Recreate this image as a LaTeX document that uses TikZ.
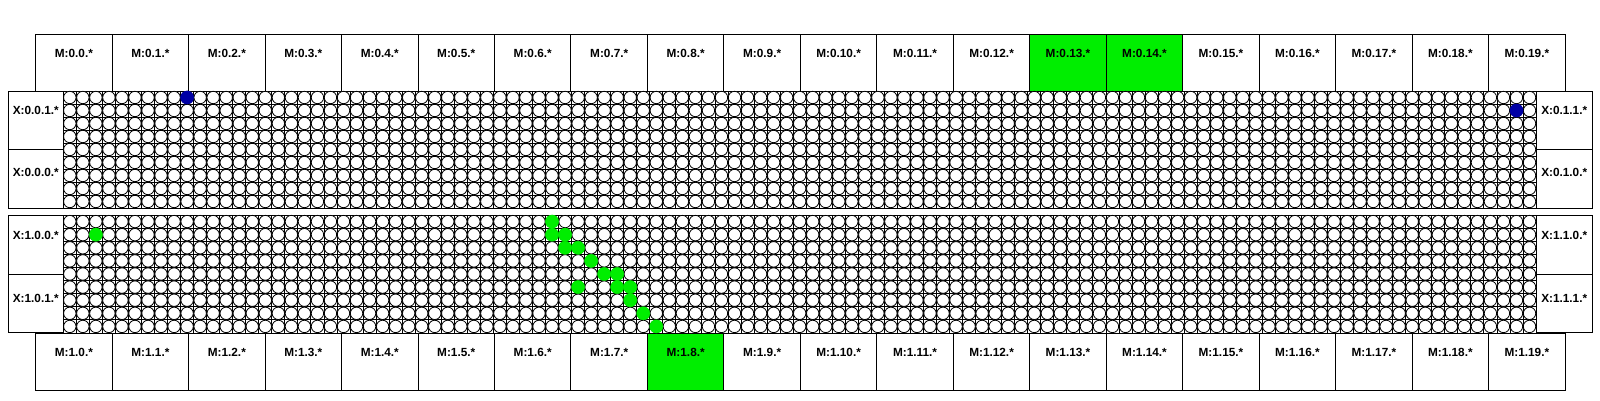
\documentclass[tikz,border=0pt]{standalone}
\usepackage{fontspec}
\setmainfont{Liberation Sans}
\definecolor{peGreen}{RGB}{0,238,0}
\definecolor{peBlue}{RGB}{0,0,165}
\tikzset{
  box/.style={draw=black,line width=1pt},
  lbl/.style={font=\bfseries\fontsize{11.8}{13}\selectfont,inner sep=0pt},
  pe/.style={draw=black,fill=white,line width=0.8pt},
  cellline/.style={draw=black,line width=0.9pt},
  active/.style={fill=#1,draw=#1,line width=0.4pt},
}
\begin{document}
\begin{tikzpicture}[x=1pt,y=-1pt]
\useasboundingbox (0,0) rectangle (1600,400);
% memory blocks, top and bottom rows
\fill[peGreen] (35.7+13*76.47,34.3) rectangle ++(2*76.47,56.7);
\fill[peGreen] (35.7+8*76.47,333) rectangle ++(76.47,57);
\foreach \i in {0,...,19}{
  \draw[box] (35.7+\i*76.47,34.3) rectangle ++(76.47,56.7);
  \node[lbl] (mtop\i) at (35.7+\i*76.47+38.2,53.7) {M:0.\i.*};
  \draw[box] (35.7+\i*76.47,333) rectangle ++(76.47,57);
  \node[lbl] (mbot\i) at (35.7+\i*76.47+38.2,352.7) {M:1.\i.*};
}
% the two halves of the mesh
\foreach \top/\h/\hh/\n in {91/13/58.5/0,215/13.11/59/1}{
  \foreach \c in {0,...,113}
    \draw[cellline] (63.3+\c*13.033,\top) -- ++(0,9*\h);
  \foreach \r in {0,...,9}
    \draw[cellline] (63.3,\top+\r*\h) -- ++(1472.7,0);
  \foreach \r in {0,...,8}
    \foreach \c in {0,...,112}
      \draw[pe] (63.3+\c*13.033+6.52,\top+\r*\h+\h/2) circle (6.2);
  \draw[box] (8.3,\top) rectangle (63.3,\top+9*\h);
  \draw[box] (8.3,\top+\hh) -- (63.3,\top+\hh);
  \draw[box] (1536,\top) rectangle (1592.3,\top+9*\h);
  \draw[box] (1536,\top+\hh) -- (1592.3,\top+\hh);
}
% ports
\node[lbl] (xl01) at (35.8,110.5) {X:0.0.1.*};
\node[lbl] (xl00) at (35.8,172) {X:0.0.0.*};
\node[lbl] (xr11) at (1564.2,110.5) {X:0.1.1.*};
\node[lbl] (xr10) at (1564.2,172) {X:0.1.0.*};
\node[lbl] (xl10) at (35.8,235) {X:1.0.0.*};
\node[lbl] (xl11) at (35.8,298.5) {X:1.0.1.*};
\node[lbl] (xr20) at (1564.2,235) {X:1.1.0.*};
\node[lbl] (xr21) at (1564.2,298.5) {X:1.1.1.*};
% active cores
\foreach \c/\r in {9/0,111/1}
  \draw[active=peBlue] (63.3+\c*13.033+6.52,91+\r*13+6.5) circle (6.6);
\foreach \c/\r in {2/1,37/0,37/1,38/1,38/2,39/2,40/3,41/4,42/4,39/5,42/5,43/5,43/6,44/7,45/8}
  \draw[active=peGreen] (63.3+\c*13.033+6.52,215+\r*13.11+6.55) circle (6.6);
\end{tikzpicture}
\end{document}
